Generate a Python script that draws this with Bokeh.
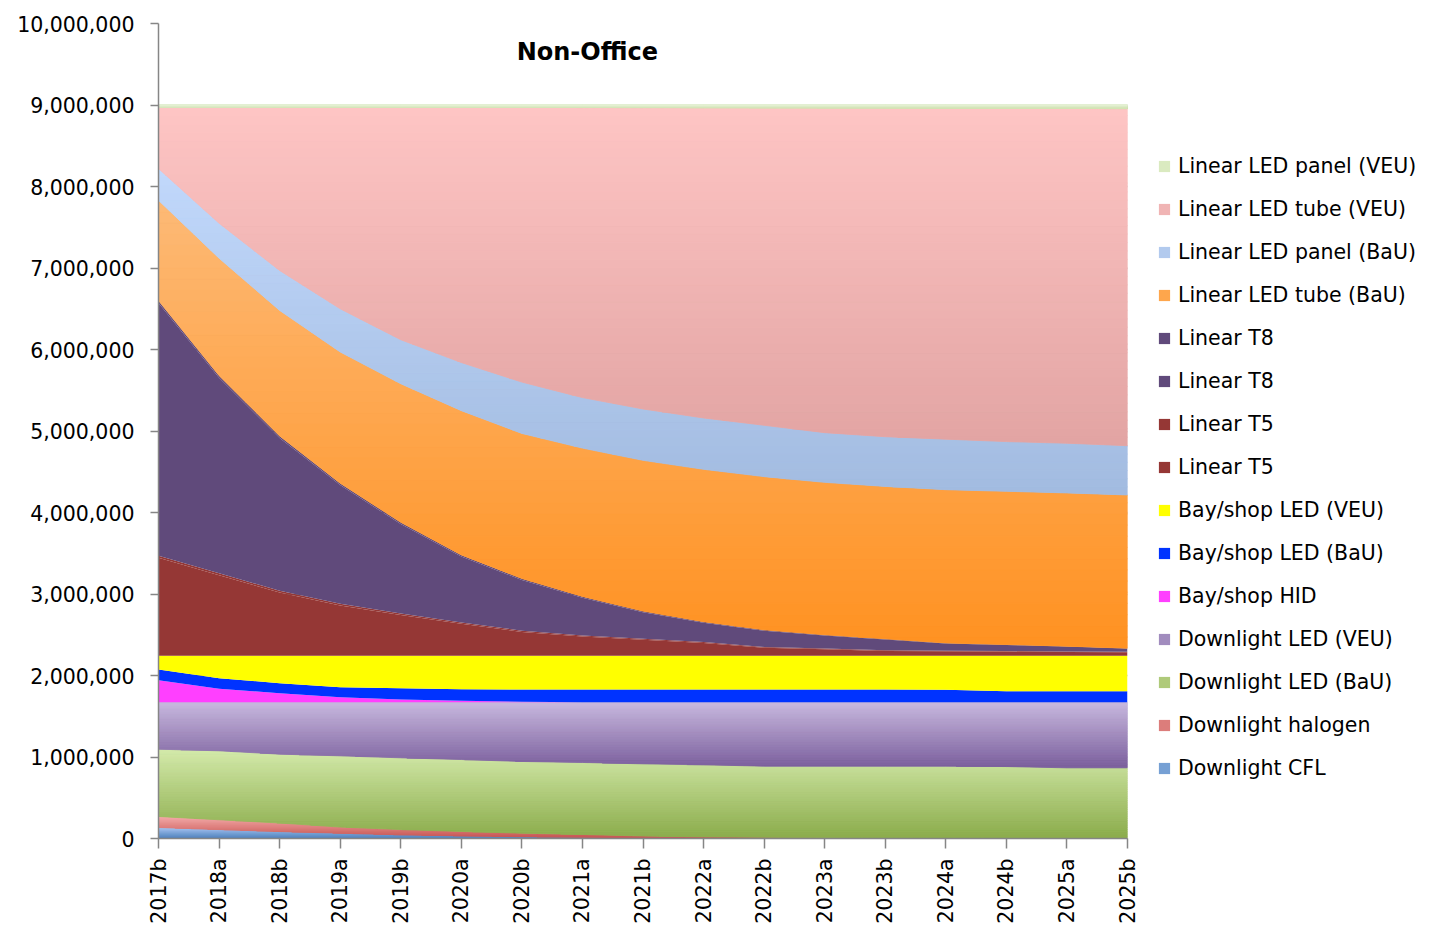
import numpy as np
from bokeh.plotting import figure
from bokeh.models import (Range1d, FixedTicker, NumeralTickFormatter, Legend,
                          LegendItem, Label, ColumnDataSource)
from bokeh.embed import file_html
from bokeh.resources import INLINE

# ---------------- data ----------------
periods = ["2017b", "2018a", "2018b", "2019a", "2019b", "2020a", "2020b", "2021a",
           "2021b", "2022a", "2022b", "2023a", "2023b", "2024a", "2024b", "2025a", "2025b"]

downlight_cfl = [135000, 110000, 85000, 65000, 45000, 32000, 22000, 15000, 10000,
                 7000, 5000, 3000, 2000, 1000, 0, 0, 0]
downlight_halogen = [135000, 120000, 105000, 75000, 65000, 54000, 43000, 34000, 20000,
                     13000, 10000, 5000, 2000, 0, 0, 0, 0]
downlight_led_bau = [826000, 846000, 845000, 874000, 880000, 883000, 880000, 884000, 886000,
                     884000, 873000, 880000, 884000, 887000, 883000, 867000, 867000]
downlight_led_veu = [577000, 597000, 638000, 659000, 683000, 704000, 728000, 740000, 757000,
                     769000, 785000, 785000, 785000, 785000, 790000, 806000, 806000]
bayshop_hid = [270000, 163000, 110000, 61000, 33000, 17000, 4000, 0, 0,
               0, 0, 0, 0, 0, 0, 0, 0]
bayshop_led_bau = [131000, 131000, 123000, 123000, 138000, 142000, 151000, 155000, 155000,
                   155000, 155000, 155000, 155000, 151000, 135000, 135000, 135000]
bayshop_led_veu = [168000, 275000, 336000, 385000, 398000, 410000, 414000, 414000, 414000,
                   414000, 414000, 414000, 414000, 418000, 434000, 434000, 434000]
linear_t5_a = [1203000, 989000, 776000, 618000, 500000, 392000, 293000, 235000, 196000,
               157000, 98000, 79000, 60000, 55000, 51000, 46000, 42000]
linear_t5_b = [25000, 24000, 22000, 20000, 18000, 16000, 15000, 13000, 12000,
               11000, 10000, 9000, 8000, 8000, 7000, 7000, 6000]
linear_t8_a = [3100000, 2397000, 1874000, 1456000, 1098000, 810000, 622000, 464000, 326000,
               238000, 200000, 161000, 132000, 88000, 74000, 60000, 40000]
linear_t8_b = [30000, 28000, 26000, 24000, 22000, 20000, 18000, 16000, 14000,
               12000, 10000, 9000, 8000, 7000, 6000, 5000, 5000]
led_tube_bau = [1230000, 1440000, 1540000, 1610000, 1700000, 1770000, 1780000, 1820000, 1850000,
                1870000, 1880000, 1870000, 1870000, 1880000, 1880000, 1880000, 1880000]
led_panel_bau = [390000, 430000, 490000, 530000, 540000, 590000, 630000, 620000, 630000,
                 630000, 630000, 610000, 610000, 620000, 610000, 610000, 605000]
led_tube_veu = [755000, 1425000, 2004000, 2473000, 2852000, 3131000, 3370000, 3559000, 3698000,
                3807000, 3896000, 3985000, 4034000, 4062000, 4090000, 4108000, 4135000]
led_panel_veu = [25000, 25000, 26000, 27000, 28000, 29000, 30000, 31000, 32000,
                 33000, 34000, 35000, 36000, 38000, 40000, 42000, 45000]

# stacking order, bottom to top: (label, values, top colour, bottom colour)
stack = [
    ("Downlight CFL", downlight_cfl, "#a3c2ee", "#4a7ebb"),
    ("Downlight halogen", downlight_halogen, "#f4aaa8", "#c4504e"),
    ("Downlight LED (BaU)", downlight_led_bau, "#d4eaab", "#8aab4a"),
    ("Downlight LED (VEU)", downlight_led_veu, "#c8b9df", "#7a5e9c"),
    ("Bay/shop HID", bayshop_hid, "#ff3fff", None),
    ("Bay/shop LED (BaU)", bayshop_led_bau, "#0033ff", None),
    ("Bay/shop LED (VEU)", bayshop_led_veu, "#ffff00", None),
    ("Linear T5", linear_t5_a, "#953735", None),
    ("Linear T5", linear_t5_b, "#953735", None),
    ("Linear T8", linear_t8_a, "#604a7b", None),
    ("Linear T8", linear_t8_b, "#604a7b", None),
    ("Linear LED tube (BaU)", led_tube_bau, "#fdba76", "#ff9121"),
    ("Linear LED panel (BaU)", led_panel_bau, "#c1d8fb", "#a2bbe0"),
    ("Linear LED tube (VEU)", led_tube_veu, "#fec5c4", "#e2a4a3"),
    ("Linear LED panel (VEU)", led_panel_veu, "#e4f1d1", "#cfe2ae"),
]

FONT = "DejaVu Sans"
AXIS_COL = "#868686"

x = np.arange(len(periods), dtype=float)

p = figure(frame_width=969, frame_height=815,
           min_border_left=158, min_border_right=313, min_border_top=23, min_border_bottom=95,
           x_range=Range1d(0, len(periods) - 1), y_range=Range1d(0, 10_000_000),
           output_backend="svg", toolbar_location=None)
p.outline_line_color = None
p.background_fill_color = "white"
p.border_fill_color = "white"


def hex2rgb(h):
    h = h.lstrip("#")
    return np.array([int(h[i:i + 2], 16) for i in (0, 2, 4)], dtype=float)


def rgb2hex(c):
    return "#%02x%02x%02x" % tuple(int(round(v)) for v in c)


def clip_poly(poly, y0, keep_above):
    out = []
    n = len(poly)
    for i in range(n):
        cx, cy = poly[i]
        px, py = poly[i - 1]
        cin = cy >= y0 if keep_above else cy <= y0
        pin = py >= y0 if keep_above else py <= y0
        if cin:
            if not pin:
                t = (y0 - py) / (cy - py)
                out.append((px + t * (cx - px), y0))
            out.append((cx, cy))
        elif pin:
            t = (y0 - py) / (cy - py)
            out.append((px + t * (cx - px), y0))
    return out


renderers = []
base = np.zeros(len(periods))
NB = 40
for label, vals, ctop, cbot in stack:
    lower = base.copy()
    upper = base + np.array(vals, dtype=float)
    if cbot is None:
        mid = ctop
    else:
        mid = rgb2hex((hex2rgb(ctop) + hex2rgb(cbot)) / 2)
    r = p.varea(x=x, y1=lower, y2=upper, fill_color=mid, fill_alpha=1.0)
    renderers.append((label, r))
    if cbot is not None:
        ymax, ymin = upper.max(), lower.min()
        poly = [(x[i], upper[i]) for i in range(len(x))] + \
               [(x[i], lower[i]) for i in range(len(x) - 1, -1, -1)]
        xs, ys, cols = [], [], []
        edges = np.linspace(ymin, ymax, NB + 1)
        t0, t1 = hex2rgb(ctop), hex2rgb(cbot)
        for k in range(NB):
            a, b = edges[k], edges[k + 1]
            part = clip_poly(clip_poly(poly, a, True), b, False)
            if len(part) < 3:
                continue
            f = 1 - ((a + b) / 2 - ymin) / (ymax - ymin)   # 0 at top, 1 at bottom
            xs.append([q[0] for q in part])
            ys.append([q[1] for q in part])
            cols.append(rgb2hex(t0 + (t1 - t0) * f))
        src = ColumnDataSource(dict(xs=xs, ys=ys, c=cols))
        p.patches("xs", "ys", source=src, fill_color="c", line_color="c", line_width=0.8)
    base = upper

# axes
p.xaxis.ticker = FixedTicker(ticks=list(range(len(periods))))
p.xaxis.major_label_overrides = {i: lab for i, lab in enumerate(periods)}
p.xaxis.major_label_orientation = np.pi / 2
p.yaxis.ticker = FixedTicker(ticks=list(range(0, 10_000_001, 1_000_000)))
p.yaxis.formatter = NumeralTickFormatter(format="0,0")
for ax in (p.xaxis, p.yaxis):
    ax.axis_line_color = AXIS_COL
    ax.axis_line_width = 1.5
    ax.major_tick_line_color = AXIS_COL
    ax.major_tick_line_width = 1.5
    ax.major_tick_in = 0
    ax.minor_tick_line_color = None
    ax.major_label_text_font = FONT
    ax.major_label_text_font_size = "20.5px"
    ax.major_label_text_color = "black"
p.xaxis.major_tick_out = 10
p.xaxis.major_label_standoff = 10
p.yaxis.major_tick_out = 8
p.yaxis.major_label_standoff = 16

p.xgrid.visible = False
p.ygrid.grid_line_color = AXIS_COL
p.ygrid.grid_line_width = 1.5

# title inside plot area
p.add_layout(Label(x=7.08, y=9_655_000, text="Non-Office", text_font=FONT,
                   text_font_style="bold", text_font_size="24px", text_color="black",
                   text_align="center", text_baseline="middle"))

# legend (top series first)
items = [LegendItem(label=lab, renderers=[r]) for lab, r in reversed(renderers)]
legend = Legend(items=items, location=(30, 58), glyph_width=14, glyph_height=14,
                label_height=25, spacing=18, label_standoff=7, padding=10, margin=0,
                border_line_color=None, background_fill_alpha=0,
                label_text_font=FONT, label_text_font_size="20.5px",
                label_text_color="black")
p.add_layout(legend, "right")

html = file_html(p, INLINE)
open("out.html", "w").write(html)
